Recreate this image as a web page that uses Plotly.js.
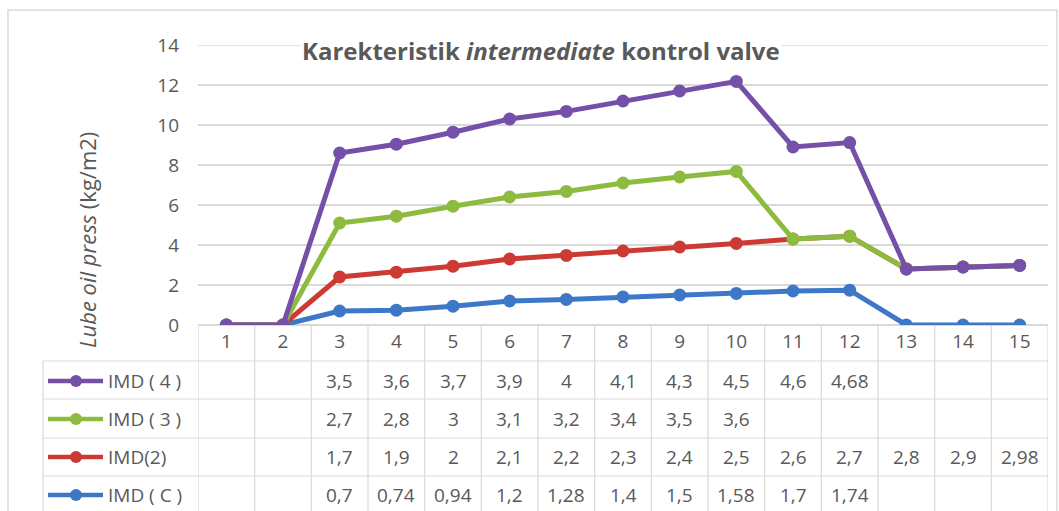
<!DOCTYPE html>
<html>
<head>
<meta charset="utf-8">
<script src="https://cdn.plot.ly/plotly-3.0.1.min.js"></script>
<style>html,body{margin:0;padding:0;background:#fff;}#chart{width:1059px;height:511px;}</style>
</head>
<body>
<div id="chart"></div>
<script>
// ---- data (table values; blanks are null) ----
const categories = [1,2,3,4,5,6,7,8,9,10,11,12,13,14,15];
const seriesNames = ["IMD ( C )", "IMD(2)", "IMD ( 3 )", "IMD ( 4 )"];
const imdC = [null,null,0.7,0.74,0.94,1.2,1.28,1.4,1.5,1.58,1.7,1.74,null,null,null];
const imd2 = [null,null,1.7,1.9,2,2.1,2.2,2.3,2.4,2.5,2.6,2.7,2.8,2.9,2.98];
const imd3 = [null,null,2.7,2.8,3,3.1,3.2,3.4,3.5,3.6,null,null,null,null,null];
const imd4 = [null,null,3.5,3.6,3.7,3.9,4,4.1,4.3,4.5,4.6,4.68,null,null,null];
const seriesColors = ["#3d78c8", "#cd3a33", "#8dbb3f", "#7450a8"];
const yTicks = [0,2,4,6,8,10,12,14];

const allSeries = [imdC, imd2, imd3, imd4];

// geometry helpers (pixels -> paper)
const L = 198, R = 1048, T = 45, B = 325, W = 1059, H = 511;
const px = v => (v - L) / (R - L);
const py = v => (B - v) / (B - T);
const font = "'Open Sans', 'Noto Sans', sans-serif";
const gray = "#595959";
const lineGray = "#d9d9d9";
const fs = 19;

// stacked line traces (Excel stacked line: empty cells plotted as zero)
const traces = allSeries.map((s, i) => ({
  type: "scatter",
  mode: "lines+markers",
  x: categories,
  y: s.map(v => v === null ? 0 : v),
  stackgroup: "one",
  fill: "none",
  name: seriesNames[i],
  line: {color: seriesColors[i], width: 5},
  marker: {color: seriesColors[i], size: 13},
  hoverinfo: "x+y+name"
}));

const shapes = [];
const annotations = [];

// outer chart border
shapes.push({type: "rect", xref: "paper", yref: "paper",
  x0: px(8), x1: px(1057), y0: py(540), y1: py(10),
  line: {color: lineGray, width: 1.5}, layer: "below"});

// top gridline (14)
shapes.push({type: "line", xref: "paper", yref: "y",
  x0: 0, x1: 1, y0: 14, y1: 14, layer: "below",
  line: {color: lineGray, width: 1.5}});

// table lines
const rowLines = [361, 399, 438, 476, 514];
const rowCenters = [381, 419, 457, 495];
for (let i = 0; i < rowLines.length - 1; i++) {
  shapes.push({type: "line", xref: "paper", yref: "paper",
    x0: px(43), x1: 1, y0: py(rowLines[i]), y1: py(rowLines[i]),
    line: {color: lineGray, width: 1.2}});
}
shapes.push({type: "line", xref: "paper", yref: "paper",
  x0: px(43), x1: px(43), y0: py(361), y1: py(540),
  line: {color: lineGray, width: 1.2}});
for (let k = 0; k <= categories.length; k++) {
  shapes.push({type: "line", xref: "x", yref: "paper",
    x0: categories[0] - 0.5 + k, x1: categories[0] - 0.5 + k, y0: 0, y1: py(540),
    line: {color: lineGray, width: 1.2}});
}

// table rows: top to bottom IMD(4), IMD(3), IMD(2), IMD(C)
const order = [3, 2, 1, 0];
order.forEach((si, r) => {
  const yc = py(rowCenters[r]);
  // legend key
  shapes.push({type: "line", xref: "paper", yref: "paper",
    x0: px(48), x1: px(103), y0: yc, y1: yc,
    line: {color: seriesColors[si], width: 4.5}});
  shapes.push({type: "circle", xref: "paper", yref: "paper",
    x0: px(70), x1: px(82), y0: yc - 6 / (B - T), y1: yc + 6 / (B - T),
    fillcolor: seriesColors[si], line: {color: seriesColors[si], width: 0}});
  annotations.push({xref: "paper", yref: "paper", x: px(106), y: yc,
    xanchor: "left", yanchor: "middle", showarrow: false,
    text: seriesNames[si], font: {family: font, size: fs, color: gray}});
  allSeries[si].forEach((v, j) => {
    if (v === null) return;
    annotations.push({xref: "x", yref: "paper", x: categories[j], y: yc,
      xanchor: "center", yanchor: "middle", showarrow: false,
      text: String(v).replace(".", ","),
      font: {family: font, size: fs, color: gray}});
  });
});

// y-axis title
annotations.push({xref: "paper", yref: "paper", x: px(87), y: py(240),
  xanchor: "center", yanchor: "middle", showarrow: false, textangle: -90,
  text: "<i>Lube oil press</i> (kg/m2)",
  font: {family: font, size: 22, color: gray}});

// chart title
annotations.push({xref: "paper", yref: "paper", x: px(541), y: py(50),
  xanchor: "center", yanchor: "middle", showarrow: false,
  bgcolor: "#ffffff",
  text: "<b>Karekteristik <i>intermediate</i> kontrol valve</b>",
  font: {family: font, size: 24, color: gray}});

const layout = {
  width: W, height: H,
  margin: {l: L, r: W - R, t: T, b: H - B, pad: 0},
  paper_bgcolor: "#ffffff", plot_bgcolor: "#ffffff",
  showlegend: false,
  xaxis: {
    range: [0.5, 15.5], tickmode: "array", tickvals: categories,
    ticktext: categories.map(String), showgrid: false, zeroline: false,
    showline: false, ticks: "", ticklabelstandoff: 3,
    tickfont: {family: font, size: fs, color: gray}, fixedrange: true
  },
  yaxis: {
    range: [0, 14], tickmode: "array", tickvals: yTicks,
    showgrid: true, gridcolor: lineGray, gridwidth: 1.5,
    zeroline: true, zerolinecolor: lineGray, zerolinewidth: 1.5,
    showline: false, ticks: "", ticklabelstandoff: 18,
    tickfont: {family: font, size: fs, color: gray}, fixedrange: true
  },
  shapes: shapes,
  annotations: annotations
};

Plotly.newPlot("chart", traces, layout, {displayModeBar: false, staticPlot: true});
</script>
</body>
</html>
